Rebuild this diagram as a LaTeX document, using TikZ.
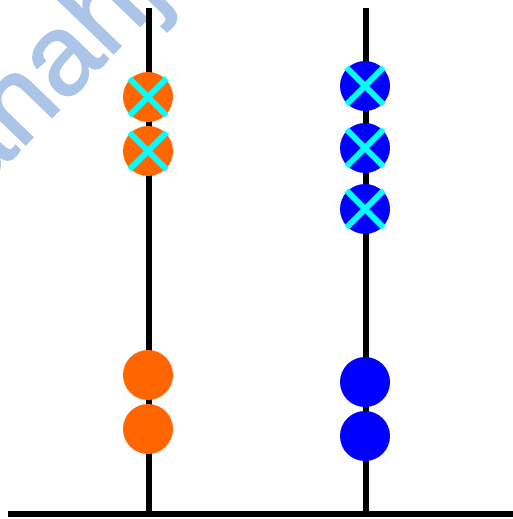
\documentclass[tikz,border=0pt]{standalone}
\usepackage{fontspec}
\newfontfamily\wmfont[FakeBold=1.6]{Liberation Sans}
\definecolor{wmblue}{HTML}{AAC5E8}
\definecolor{orng}{HTML}{FF6600}
\definecolor{bball}{HTML}{0000FF}
\definecolor{crossc}{HTML}{00FFFF}
\tikzset{
  pole/.style={line width=5.5pt, black},
  ground/.style={line width=6pt, black},
  ball/.style={circle, minimum size=50pt, inner sep=0pt, draw=none},
  oball/.style={ball, fill=orng},
  bluball/.style={ball, fill=bball},
  xmark/.style={line width=6pt, crossc},
}
\newcommand{\crossat}[1]{%
  \draw[xmark] ([shift={(-18.5,-18.5)}]#1.center) -- ([shift={(18.5,18.5)}]#1.center);
  \draw[xmark] ([shift={(-18.5,18.5)}]#1.center) -- ([shift={(18.5,-18.5)}]#1.center);}
\begin{document}
\begin{tikzpicture}[x=1pt,y=-1pt]
\useasboundingbox (0,0) rectangle (513,519);
\clip (0,0) rectangle (513,519);
% watermark
\node[anchor=base west, rotate=46, text=wmblue, inner sep=0pt, font=\wmfont\fontsize{114}{114}\selectfont] (wm) at (-24,196) {anahj};
% ground and poles
\coordinate (gl) at (8,514);
\coordinate (gr) at (513,514);
\coordinate (p1t) at (149,8);
\coordinate (p1b) at (149,514);
\coordinate (p2t) at (366,8);
\coordinate (p2b) at (366,514);
\draw[pole] (p1t) -- (p1b);
\draw[pole] (p2t) -- (p2b);
\draw[ground] (gl) -- (gr);
% orange balls
\node[oball] (o1) at (148,97) {};
\node[oball] (o2) at (148,151) {};
\node[oball] (o3) at (148,375) {};
\node[oball] (o4) at (148,429) {};
% blue balls
\node[bluball] (b1) at (365,86) {};
\node[bluball] (b2) at (365,148) {};
\node[bluball] (b3) at (365,209) {};
\node[bluball] (b4) at (365,382) {};
\node[bluball] (b5) at (365,436) {};
% crosses
\crossat{o1}
\crossat{o2}
\crossat{b1}
\crossat{b2}
\crossat{b3}
\end{tikzpicture}
\end{document}
